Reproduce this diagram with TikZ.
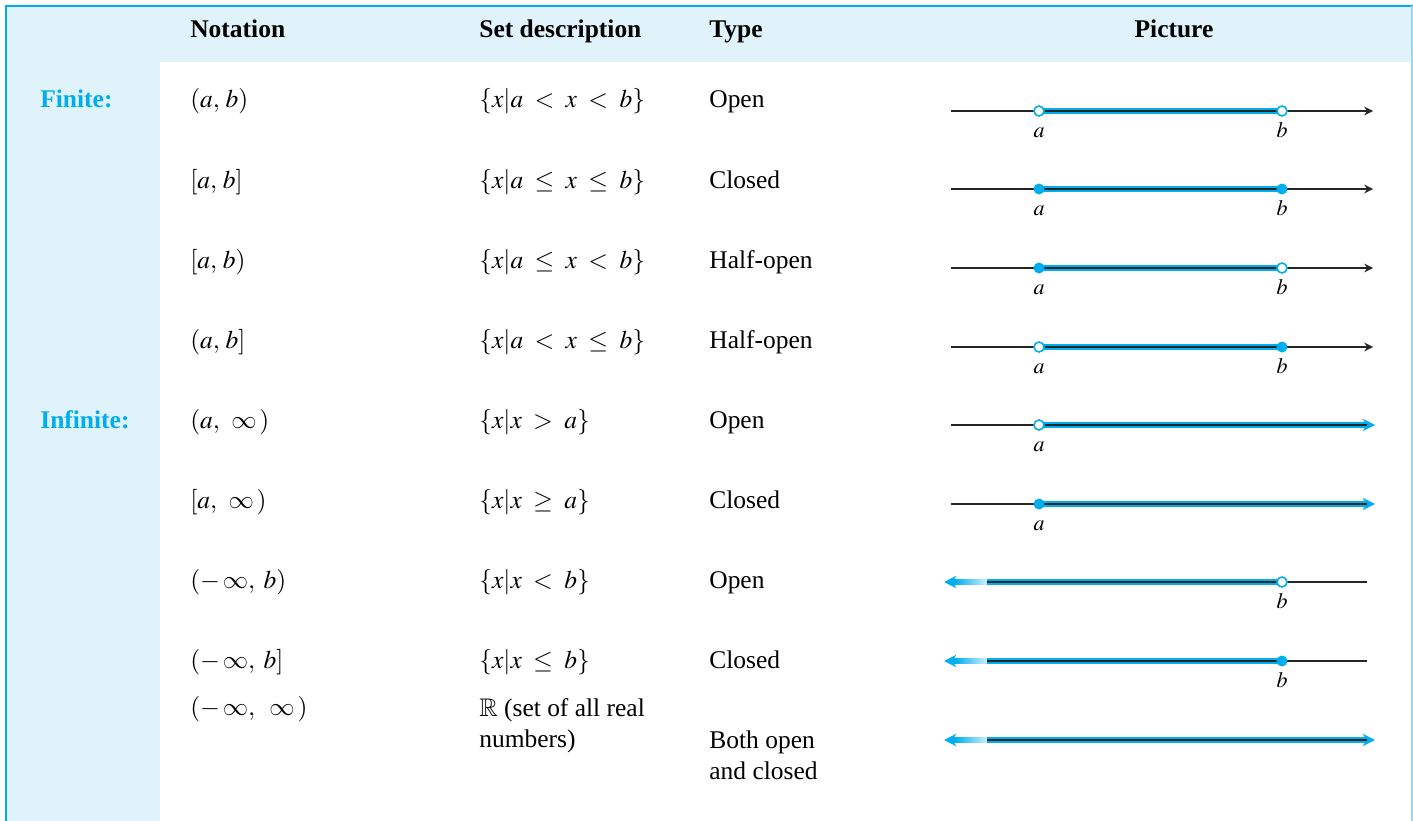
\documentclass[tikz,border=0pt]{standalone}
\usepackage{amssymb}
\usepackage{mathptmx}
\usepackage[no-math]{fontspec}
\setmainfont{Liberation Serif}
\usetikzlibrary{arrows.meta}
\definecolor{cyanline}{RGB}{0,174,239}
\definecolor{headfill}{RGB}{224,243,250}
\definecolor{edgeline}{RGB}{150,215,245}
\DeclareSymbolFont{cmsymbols}{OMS}{cmsy}{m}{n}
\DeclareMathSymbol{\wideinf}{\mathord}{cmsymbols}{"31}

\begin{document}
\begin{tikzpicture}[x=0.02cm, y=-0.02cm,
		txt/.style={anchor=base west, inner sep=0pt, font=\fontsize{14.5}{17}\selectfont},
		head/.style={txt, font=\fontsize{14.5}{17}\selectfont\bfseries},
		kind/.style={head, text=cyanline},
		lbl/.style={anchor=base, inner sep=0pt, font=\fontsize{12.5}{15}\selectfont},
		axis/.style={black!85, line width=0.8pt},
		band/.style={cyanline, line width=3.2pt},
		core/.style={black!85, line width=1.1pt},
		hollowpt/.style={circle, draw=cyanline, fill=white, line width=0.9pt, inner sep=0pt, minimum size=0.2cm},
		fullpt/.style={circle, fill=cyanline, inner sep=0pt, minimum size=0.22cm},
		tip/.style={-{Stealth[length=5pt, width=5pt]}},
		bluetip/.style={-{Stealth[length=7pt, width=7pt]}},
		fade/.style={left color=cyanline, right color=cyanline!20}]
		\useasboundingbox (0,0) rectangle (1413,821);
		% table frame
		\fill [headfill] (7,7) rectangle (1411,62);
		\fill [headfill] (7,62) rectangle (160,821);
		\draw [cyanline, line width=1.1pt] (6,821) -- (6,6) -- (1413,6);
		\draw [edgeline, line width=0.8pt] (1412,6) -- (1412,821);
		% headings
		\node[head] (hnot) at (190,38) {Notation};
		\node[head] (hset) at (479,38) {Set description};
		\node[head] (htyp) at (709,38) {Type};
		\node[head, anchor=base] (hpic) at (1174,38) {Picture};
		\node[kind] (fin) at (40,108) {Finite:};
		\node[kind] (inf) at (40,428) {Infinite:};
		% notation, sets, types
		\node[txt] (n1) at (190,108) {$(a,\, b)$};
		\node[txt] (s1) at (479,108) {$\{x|a \;<\; x \;<\; b\}$};
		\node[txt] (t1) at (709,108) {Open};
		\node[txt] (n2) at (190,188) {$[a,\, b]$};
		\node[txt] (s2) at (479,188) {$\{x|a \;\le\; x \;\le\; b\}$};
		\node[txt] (t2) at (709,188) {Closed};
		\node[txt] (n3) at (190,268) {$[a,\, b)$};
		\node[txt] (s3) at (479,268) {$\{x|a \;\le\; x \;<\; b\}$};
		\node[txt] (t3) at (709,268) {Half-open};
		\node[txt] (n4) at (190,348) {$(a,\, b]$};
		\node[txt] (s4) at (479,348) {$\{x|a \;<\; x \;\le\; b\}$};
		\node[txt] (t4) at (709,348) {Half-open};
		\node[txt] (n5) at (190,428) {$(a,\;\, \wideinf\,)$};
		\node[txt] (s5) at (479,428) {$\{x|x \;>\; a\}$};
		\node[txt] (t5) at (709,428) {Open};
		\node[txt] (n6) at (190,508) {$[a,\;\, \wideinf\,)$};
		\node[txt] (s6) at (479,508) {$\{x|x \;\ge\; a\}$};
		\node[txt] (t6) at (709,508) {Closed};
		\node[txt] (n7) at (190,588) {$(-\,\wideinf,\; b)$};
		\node[txt] (s7) at (479,588) {$\{x|x \;<\; b\}$};
		\node[txt] (t7) at (709,588) {Open};
		\node[txt] (n8) at (190,668) {$(-\,\wideinf,\; b]$};
		\node[txt] (s8) at (479,668) {$\{x|x \;\le\; b\}$};
		\node[txt] (t8) at (709,668) {Closed};
		\node[txt] (n9) at (190,715) {$(-\,\wideinf,\;\; \wideinf\,)$};
		\node[txt] (s9a) at (479,716) {$\mathbb{R}$ (set of all real};
		\node[txt] (s9b) at (479,747) {numbers)};
		\node[txt] (t9a) at (709,748) {Both open};
		\node[txt] (t9b) at (709,779) {and closed};
		% (a,b)
		\coordinate (l1) at (951,111);
		\coordinate (r1) at (1373,111);
		\draw [axis, tip] (l1) -- (r1);
		\draw [band] (1039,111) -- (1282,111);
		\draw [core] (1039,111) -- (1282,111);
		\node[hollowpt] (a1) at (1039,111) {};
		\node[hollowpt] (b1) at (1282,111) {};
		\node[lbl] (la1) at (1039,137) {$a$};
		\node[lbl] (lb1) at (1282,137) {$b$};
		% [a,b]
		\coordinate (l2) at (951,189);
		\coordinate (r2) at (1373,189);
		\draw [axis, tip] (l2) -- (r2);
		\draw [band] (1039,189) -- (1282,189);
		\draw [core] (1039,189) -- (1282,189);
		\node[fullpt] (a2) at (1039,189) {};
		\node[fullpt] (b2) at (1282,189) {};
		\node[lbl] (la2) at (1039,215) {$a$};
		\node[lbl] (lb2) at (1282,215) {$b$};
		% [a,b)
		\coordinate (l3) at (951,268);
		\coordinate (r3) at (1373,268);
		\draw [axis, tip] (l3) -- (r3);
		\draw [band] (1039,268) -- (1282,268);
		\draw [core] (1039,268) -- (1282,268);
		\node[fullpt] (a3) at (1039,268) {};
		\node[hollowpt] (b3) at (1282,268) {};
		\node[lbl] (la3) at (1039,294) {$a$};
		\node[lbl] (lb3) at (1282,294) {$b$};
		% (a,b]
		\coordinate (l4) at (951,347);
		\coordinate (r4) at (1373,347);
		\draw [axis, tip] (l4) -- (r4);
		\draw [band] (1039,347) -- (1282,347);
		\draw [core] (1039,347) -- (1282,347);
		\node[hollowpt] (a4) at (1039,347) {};
		\node[fullpt] (b4) at (1282,347) {};
		\node[lbl] (la4) at (1039,373) {$a$};
		\node[lbl] (lb4) at (1282,373) {$b$};
		% (a,oo)
		\coordinate (l5) at (951,425);
		\coordinate (r5) at (1375,425);
		\coordinate (e5) at (1367,425);
		\draw [axis] (l5) -- (1039,425);
		\draw [band, bluetip] (1039,425) -- (r5);
		\draw [core] (1039,425) -- (e5);
		\node[hollowpt] (a5) at (1039,425) {};
		\node[lbl] (la5) at (1039,451) {$a$};
		% [a,oo)
		\coordinate (l6) at (951,504);
		\coordinate (r6) at (1375,504);
		\coordinate (e6) at (1367,504);
		\draw [axis] (l6) -- (1039,504);
		\draw [band, bluetip] (1039,504) -- (r6);
		\draw [core] (1039,504) -- (e6);
		\node[fullpt] (a6) at (1039,504) {};
		\node[lbl] (la6) at (1039,530) {$a$};
		% (-oo,b)
		\coordinate (l7) at (944,582);
		\coordinate (r7) at (1367,582);
		\draw [band, bluetip] (958,582) -- (l7);
		\shade [fade] (955,579.2) rectangle (987,584.8);
		\draw [band] (987,582) -- (1282,582);
		\draw [core] (987,582) -- (1282,582);
		\draw [axis] (1282,582) -- (r7);
		\node[hollowpt] (b7) at (1282,582) {};
		\node[lbl] (lb7) at (1282,608) {$b$};
		% (-oo,b]
		\coordinate (l8) at (944,661);
		\coordinate (r8) at (1367,661);
		\draw [band, bluetip] (958,661) -- (l8);
		\shade [fade] (955,658.2) rectangle (987,663.8);
		\draw [band] (987,661) -- (1282,661);
		\draw [core] (987,661) -- (1282,661);
		\draw [axis] (1282,661) -- (r8);
		\node[fullpt] (b8) at (1282,661) {};
		\node[lbl] (lb8) at (1282,687) {$b$};
		% (-oo,oo)
		\coordinate (l9) at (944,740);
		\coordinate (r9) at (1375,740);
		\coordinate (e9) at (1367,740);
		\draw [band, bluetip] (958,740) -- (l9);
		\shade [fade] (955,737.2) rectangle (987,742.8);
		\draw [band, bluetip] (987,740) -- (r9);
		\draw [core] (987,740) -- (e9);
\end{tikzpicture}
\end{document}
